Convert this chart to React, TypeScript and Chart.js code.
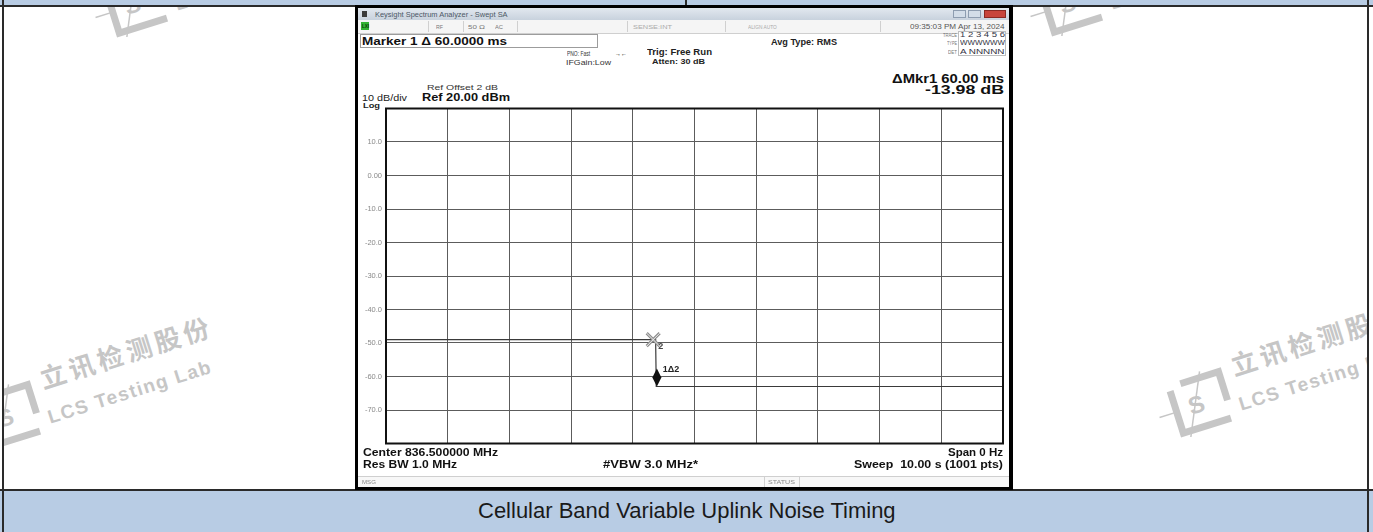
import React, { useEffect, useRef } from "react";
import { Chart, registerables } from "chart.js";

Chart.register(...registerables);

// ---- data ----
const sweepTimes = [0, 4.37, 4.38, 10]; // seconds (span 0 Hz, sweep 10 s)
const traceLevels = [-49.0, -49.0, -62.98, -62.98]; // dBm
const markerTimes = [4.39, 4.33]; // marker 1 (delta), marker 2 (reference)
const markerLevels = [-62.98, -49.0];
const markerLabels = ["1Δ2", "2"];
const yTickValues = [20, 10, 0, -10, -20, -30, -40, -50, -60, -70, -80];
const yTickLabels = ["", "10.0", "0.00", "-10.0", "-20.0", "-30.0", "-40.0", "-50.0", "-60.0", "-70.0", ""];
const timeMin = 0;
const timeMax = 10;
const refLevel = 20;
const bottomLevel = -80;

const FAM = '"Liberation Sans", Arial, sans-serif';
const measureCtx: CanvasRenderingContext2D | null =
  typeof document !== "undefined" ? document.createElement("canvas").getContext("2d") : null;

type TP = { x: number; yc: number; w?: number; size: number; bold?: boolean; color?: string; text: string; italic?: boolean };
function T({ x, yc, w, size, bold, color, text, italic }: TP) {
  const weight = bold ? "bold" : "normal";
  const style = italic ? "italic" : "normal";
  let sx = 1;
  if (w && measureCtx) {
    measureCtx.font = `${style} ${weight} ${size}px ${FAM}`;
    const m = measureCtx.measureText(text).width;
    if (m > 0) sx = w / m;
  }
  return (
    <span
      style={{
        position: "absolute",
        left: x,
        top: yc - 0.4885 * size,
        fontFamily: FAM,
        fontSize: size,
        fontWeight: weight as any,
        fontStyle: style,
        lineHeight: `${size}px`,
        color: color || "#111",
        whiteSpace: "pre",
        transform: `scaleX(${sx})`,
        transformOrigin: "0 0",
      }}
    >
      {text}
    </span>
  );
}

function Box(p: { x: number; y: number; w: number; h: number; bg?: string; border?: string }) {
  return (
    <div
      style={{
        position: "absolute",
        left: p.x,
        top: p.y,
        width: p.w,
        height: p.h,
        background: p.bg || "transparent",
        border: p.border || "none",
        boxSizing: "border-box",
      }}
    />
  );
}

const WM = "#c6c6c6";
function Watermark({ cx, cy }: { cx: number; cy: number }) {
  return (
    <g transform={`translate(${cx} ${cy}) rotate(-17.5)`}>
      <path d="M -24 -20 L -24 24 L 26 24" fill="none" stroke={WM} strokeWidth={7} />
      <path d="M -12 -24 L 28 -24 L 28 6" fill="none" stroke={WM} strokeWidth={7} />
      <text x={-3} y={9} textAnchor="middle" fontFamily={FAM} fontWeight="bold" fontSize={24} fill={WM}>S</text>
      <path d="M -42 2 L -24 2" stroke={WM} strokeWidth={1.5} />
      <path d="M -18 30 L 10 -30" stroke={WM} strokeWidth={1.5} />
      <text x={42} y={-15} fontFamily='"Noto Sans CJK SC", sans-serif' fontWeight="bold" fontSize={26} letterSpacing={4} fill={WM}>立讯检测股份</text>
      <text x={38} y={20} fontFamily={FAM} fontWeight="bold" fontSize={19} letterSpacing={1.5} fill={WM}>LCS Testing Lab</text>
    </g>
  );
}

const framePlugin = {
  id: "saFrame",
  afterDatasetsDraw(chart: any) {
    const { ctx, chartArea: a, scales } = chart;
    const xs = scales.x;
    const ys = scales.y;
    ctx.save();
    ctx.strokeStyle = "#111";
    ctx.lineWidth = 2;
    ctx.strokeRect(a.left, a.top, a.right - a.left, a.bottom - a.top);

    // marker 2: hollow X centred on the trace
    const x2 = xs.getPixelForValue(markerTimes[1]);
    const y2 = ys.getPixelForValue(markerLevels[1]);
    const d = 6.5;
    const xPath = () => {
      ctx.beginPath();
      ctx.moveTo(x2 - d, y2 - d);
      ctx.lineTo(x2 + d, y2 + d);
      ctx.moveTo(x2 + d, y2 - d);
      ctx.lineTo(x2 - d, y2 + d);
    };
    ctx.lineCap = "butt";
    ctx.strokeStyle = "#8c8c8c";
    ctx.lineWidth = 3;
    xPath();
    ctx.stroke();
    ctx.strokeStyle = "#f2f2f2";
    ctx.lineWidth = 1;
    xPath();
    ctx.stroke();
    ctx.fillStyle = "#444";
    ctx.font = `bold 9px ${FAM}`;
    ctx.textBaseline = "alphabetic";
    ctx.fillText(markerLabels[1], x2 + 5, y2 + 6 + 0.358 * 9);

    // marker 1: filled diamond sitting on the trace
    const x1 = xs.getPixelForValue(markerTimes[0]);
    const y1 = ys.getPixelForValue(markerLevels[0]);
    ctx.fillStyle = "#111";
    ctx.beginPath();
    ctx.moveTo(x1, y1);
    ctx.lineTo(x1 + 4.5, y1 - 9);
    ctx.lineTo(x1, y1 - 18);
    ctx.lineTo(x1 - 4.5, y1 - 9);
    ctx.closePath();
    ctx.fill();
    ctx.fillStyle = "#222";
    ctx.fillText(markerLabels[0], x1 + 6, y1 - 17.5 + 0.358 * 9);
    ctx.restore();
  },
};

export default function App() {
  const ref = useRef<HTMLCanvasElement>(null);

  useEffect(() => {
    Chart.defaults.font.family = FAM;
    const chart = new Chart(ref.current as HTMLCanvasElement, {
      type: "line",
      data: {
        datasets: [
          {
            data: sweepTimes.map((t, i) => ({ x: t, y: traceLevels[i] })),
            borderColor: "#3a3a3a",
            borderWidth: 1.2,
            pointRadius: 0,
            fill: false,
            tension: 0,
          },
        ],
      },
      options: {
        animation: false,
        responsive: false,
        maintainAspectRatio: false,
        events: [],
        layout: { padding: { top: 7, right: 10, bottom: 8, left: 0 } },
        plugins: { legend: { display: false }, tooltip: { enabled: false } },
        scales: {
          x: {
            type: "linear",
            min: timeMin,
            max: timeMax,
            ticks: { display: false, stepSize: 1 },
            grid: { color: "#5c5c5c", lineWidth: 1, drawTicks: false },
            border: { display: false },
            afterFit: (s: any) => {
              s.height = 0;
            },
          },
          y: {
            min: bottomLevel,
            max: refLevel,
            ticks: {
              stepSize: 10,
              padding: 4,
              color: "#8a8a8a",
              font: { size: 7.5 },
              autoSkip: false,
              callback: (v: any) => {
                const i = yTickValues.indexOf(Number(v));
                return i >= 0 ? yTickLabels[i] : "";
              },
            },
            grid: { color: "#5c5c5c", lineWidth: 1, drawTicks: false },
            border: { display: false },
            afterFit: (s: any) => {
              s.width = 29;
            },
          },
        },
      } as any,
      plugins: [framePlugin],
    });
    return () => chart.destroy();
  }, []);

  const blue = "#B8CCE4";
  const line = "#2a2a2a";

  return (
    <div style={{ position: "fixed", left: 0, top: 0, width: 1373, height: 532, background: "#fff", overflow: "hidden" }}>
      {/* document table */}
      <Box x={0} y={0} w={1373} h={5} bg={blue} />
      <Box x={0} y={491} w={1373} h={41} bg={blue} />
      <Box x={685} y={0} w={2} h={6} bg={line} />
      <Box x={0} y={5} w={1373} h={2} bg={line} />
      <Box x={0} y={489} w={1373} h={2} bg={line} />
      <Box x={2} y={0} w={2} h={532} bg={line} />
      <Box x={1367} y={0} w={2} h={532} bg={line} />

      {/* watermarks, clipped to the white cell */}
      <svg width={1373} height={532} style={{ position: "absolute", left: 0, top: 0 }}>
        <defs>
          <clipPath id="cell">
            <rect x={4} y={7} width={1363} height={482} />
          </clipPath>
        </defs>
        <g clipPath="url(#cell)">
          <Watermark cx={8} cy={416} />
          <Watermark cx={1199} cy={403} />
          <Watermark cx={135} cy={3} />
          <Watermark cx={1070} cy={2} />
        </g>
      </svg>

      {/* analyzer screenshot */}
      <Box x={355} y={5} w={658} h={485} bg="#000" />
      <Box x={358} y={8} w={651} h={479} bg="#fff" />
      <div style={{ position: "absolute", left: 358, top: 8, width: 651, height: 12, background: "linear-gradient(#e2e8ef,#c8d2dd)" }} />
      <Box x={362} y={11} w={5} h={6} bg="#3a3a3a" />
      <T x={375} yc={14.5} w={133} size={7} color="#4d5866" text="Keysight Spectrum Analyzer - Swept SA" />
      <Box x={953} y={10} w={13} h={8} bg="#d3dde8" border="1px solid #8e9db0" />
      <Box x={968} y={10} w={13} h={8} bg="#d3dde8" border="1px solid #8e9db0" />
      <Box x={984} y={10} w={22} h={8} bg="#c8453c" border="1px solid #8a2a24" />

      <Box x={358} y={20} w={651} h={13} bg="#f5f5f5" border="none" />
      <Box x={358} y={33} w={651} h={1} bg="#cfcfcf" />
      <Box x={361} y={22} w={8} h={8} bg="#35b335" />
      <T x={361.5} yc={26} w={7} size={5} bold color="#0a3a0a" text="LXI" />
      {[428, 463, 517, 627, 725, 880].map((sx) => (
        <Box key={sx} x={sx} y={21} w={1} h={11} bg="#d0d0d0" />
      ))}
      <T x={436} yc={27} w={7} size={6} color="#777" text="RF" />
      <T x={468} yc={27} w={17} size={6} color="#777" text="50 Ω" />
      <T x={495} yc={27} w={8} size={6} color="#777" text="AC" />
      <T x={633} yc={27} w={39} size={6} color="#aaa" text="SENSE:INT" />
      <T x={748} yc={27} w={29} size={6} color="#aaa" text="ALIGN AUTO" />
      <T x={910} yc={27} w={95} size={6.5} color="#555" text="09:35:03 PM Apr 13, 2024" />

      <Box x={360} y={34} w={238} h={14} bg="#fff" border="1px solid #9c9c9c" />
      <T x={362} yc={41} w={145} size={11} bold color="#111" text="Marker 1 Δ 60.0000 ms" />
      <T x={567} yc={53} w={23} size={7} color="#333" text="PNO: Fast" />
      <T x={566} yc={62} w={45} size={7} color="#333" text="IFGain:Low" />
      <T x={615} yc={53} w={12} size={7} color="#333" text="→←" />
      <T x={647} yc={52} w={65} size={8.5} bold color="#222" text="Trig: Free Run" />
      <T x={652} yc={62} w={53} size={8} bold color="#222" text="Atten: 30 dB" />
      <T x={771} yc={42} w={66} size={8.5} bold color="#222" text="Avg Type: RMS" />

      <Box x={958} y={31} w={48} h={25} bg="#fff" border="1px solid #bdbdbd" />
      <T x={943} yc={35} w={14} size={5} color="#777" text="TRACE" />
      <T x={960} yc={35} w={45} size={6.5} color="#334" text="1 2 3 4 5 6" />
      <T x={947} yc={43} w={10} size={5} color="#777" text="TYPE" />
      <T x={960} yc={43} w={45} size={6.5} color="#334" text="WWWWWW" />
      <T x={948} yc={52} w={9} size={5} color="#777" text="DET" />
      <T x={960} yc={52} w={45} size={6.5} color="#334" text="A NNNNN" />

      <T x={892} yc={79.5} w={112} size={12.5} bold color="#111" text="ΔMkr1 60.00 ms" />
      <T x={925} yc={90.5} w={79} size={12.5} bold color="#111" text="-13.98 dB" />
      <T x={427} yc={88} w={71} size={8} color="#333" text="Ref Offset 2 dB" />
      <T x={362} yc={98} w={45} size={8.5} color="#222" text="10 dB/div" />
      <T x={422} yc={97.5} w={88} size={11.5} bold color="#111" text="Ref 20.00 dBm" />
      <T x={363} yc={105.5} w={17} size={8} bold color="#222" text="Log" />

      <canvas
        ref={ref}
        width={656}
        height={352}
        style={{ position: "absolute", left: 357, top: 100, width: 656, height: 352 }}
      />

      <T x={363} yc={452.5} w={135} size={11.5} bold color="#111" text="Center 836.500000 MHz" />
      <T x={363} yc={465} w={94} size={11.5} bold color="#111" text="Res BW 1.0 MHz" />
      <T x={603} yc={465} w={95} size={11.5} bold color="#111" text="#VBW 3.0 MHz*" />
      <T x={948} yc={452.5} w={55} size={11.5} bold color="#111" text="Span 0 Hz" />
      <T x={854} yc={465} w={149} size={11.5} bold color="#111" text="Sweep  10.00 s (1001 pts)" />

      <Box x={358} y={476} w={651} h={1} bg="#cfcfcf" />
      <Box x={358} y={477} w={651} h={10} bg="#f7f7f7" />
      <Box x={764} y={477} w={1} h={10} bg="#d0d0d0" />
      <Box x={799} y={477} w={1} h={10} bg="#d0d0d0" />
      <T x={362} yc={482.5} w={14} size={5.5} color="#888" text="MSG" />
      <T x={768} yc={482.5} w={27} size={5.5} color="#888" text="STATUS" />

      <T x={478} yc={511} w={418} size={22} color="#1a1a1a" text="Cellular Band Variable Uplink Noise Timing" />
    </div>
  );
}
